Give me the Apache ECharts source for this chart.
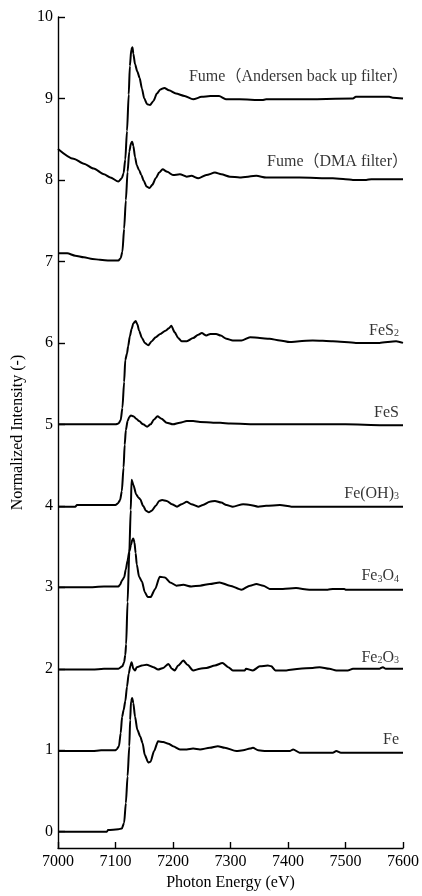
<!DOCTYPE html>
<html>
<head>
<meta charset="utf-8">
<script src="https://cdn.jsdelivr.net/npm/echarts@6/dist/echarts.min.js"></script>
<style>html,body{margin:0;padding:0;background:#fff}#c{width:422px;height:896px}</style>
</head>
<body>
<div id="c"></div>
<script>
// Tick labels
const xMin = 7000, xMax = 7600, xStep = 100;
const yTicks = [0, 1, 2, 3, 4, 5, 6, 7, 8, 9, 10];

// Spectra: [photon energy (eV), normalized intensity (offset)]
const andersen = [[7000,8.38],[7027,8.26],[7045,8.2],[7062,8.14],[7080,8.07],[7091,8.03],[7105,7.98],[7111,8.02],[7114,8.08],[7117,8.25],[7120,8.6],[7123,9.05],[7125,9.4],[7127.5,9.6],[7129.5,9.63],[7131,9.55],[7134,9.42],[7138,9.33],[7142,9.25],[7146,9.12],[7150,9.0],[7155,8.93],[7160,8.92],[7166,8.97],[7172,9.06],[7178,9.11],[7185,9.13],[7193,9.1],[7205,9.06],[7220,9.03],[7235,8.99],[7250,9.02],[7265,9.03],[7280,9.03],[7292,8.99],[7316,8.99],[7355,8.98],[7362,8.99],[7420,8.99],[7513,9.0],[7518,9.02],[7576,9.02],[7582,9.01],[7600,9.0]];
const dma = [[7000,7.10],[7016,7.10],[7030,7.07],[7045,7.05],[7060,7.03],[7073,7.02],[7090,7.01],[7105,7.01],[7109,7.04],[7112,7.12],[7115,7.4],[7118,7.75],[7121,8.1],[7124,8.35],[7127,8.45],[7129,8.47],[7131,8.42],[7134,8.28],[7137,8.18],[7141,8.12],[7145,8.06],[7149,7.99],[7154,7.92],[7159,7.90],[7164,7.94],[7170,8.02],[7176,8.09],[7182,8.13],[7190,8.10],[7200,8.06],[7212,8.07],[7224,8.04],[7232,8.05],[7244,8.02],[7258,8.06],[7273,8.09],[7284,8.07],[7299,8.04],[7316,8.03],[7345,8.05],[7362,8.03],[7420,8.03],[7478,8.02],[7500,8.01],[7513,8.0],[7536,8.0],[7545,8.01],[7570,8.01],[7600,8.01]];
const fes2 = [[7000,5.0],[7050,5.0],[7100,5.0],[7105,5.01],[7109,5.05],[7112,5.2],[7115,5.52],[7117,5.79],[7120,5.87],[7122,5.96],[7125,6.08],[7128,6.17],[7131,6.24],[7135,6.27],[7138,6.23],[7141,6.15],[7146,6.06],[7151,6.0],[7157,5.97],[7163,6.02],[7170,6.07],[7178,6.11],[7187,6.15],[7193,6.18],[7197,6.21],[7203,6.13],[7209,6.06],[7215,6.02],[7224,6.02],[7235,6.06],[7244,6.10],[7250,6.12],[7258,6.09],[7265,6.11],[7275,6.11],[7283,6.09],[7293,6.05],[7304,6.03],[7319,6.03],[7334,6.07],[7351,6.06],[7368,6.05],[7386,6.03],[7403,6.01],[7420,6.02],[7443,6.03],[7478,6.02],[7518,6.0],[7559,6.0],[7588,6.02],[7600,6.0]];
const fes = [[7000,3.99],[7030,3.99],[7033,4.01],[7100,4.01],[7104,4.03],[7108,4.07],[7111,4.18],[7114,4.47],[7116,4.75],[7118,4.93],[7121,5.04],[7124,5.09],[7127,5.11],[7131,5.10],[7136,5.07],[7141,5.04],[7148,5.0],[7155,4.97],[7161,5.0],[7167,5.06],[7173,5.10],[7180,5.07],[7189,5.02],[7200,5.0],[7212,5.02],[7224,5.04],[7235,5.04],[7247,5.03],[7270,5.02],[7282,5.02],[7300,5.01],[7351,5.0],[7420,5.0],[7500,5.0],[7565,4.99],[7600,4.99]];
const feoh3 = [[7000,1.99],[7060,1.99],[7080,2.0],[7105,2.0],[7112,2.03],[7115,2.08],[7117,2.17],[7118.5,2.3],[7121,2.82],[7124,3.43],[7126.5,3.95],[7128,4.32],[7131,4.26],[7136,4.14],[7140,4.10],[7143,4.08],[7148,4.0],[7153,3.94],[7158,3.92],[7163,3.94],[7170,4.0],[7176,4.06],[7181,4.07],[7189,4.06],[7198,4.02],[7207,3.99],[7215,4.02],[7224,4.05],[7232,4.02],[7244,3.99],[7252,4.01],[7264,4.05],[7273,4.06],[7284,4.04],[7293,4.01],[7304,3.99],[7322,4.02],[7334,4.01],[7348,3.99],[7362,4.0],[7386,4.01],[7406,3.99],[7600,3.99]];
const fe3o4 = [[7000,3.0],[7050,3.0],[7080,3.01],[7105,3.01],[7108,3.03],[7111,3.08],[7113,3.1],[7115,3.12],[7118,3.22],[7121,3.33],[7124,3.44],[7127,3.52],[7129,3.58],[7131,3.6],[7133,3.55],[7135,3.42],[7137,3.28],[7141,3.13],[7146,3.07],[7151,2.94],[7156,2.88],[7161,2.88],[7169,2.98],[7177,3.13],[7186,3.12],[7195,3.06],[7206,3.02],[7218,3.03],[7232,3.01],[7247,3.02],[7264,3.04],[7281,3.06],[7299,3.02],[7319,2.97],[7334,3.02],[7345,3.04],[7357,3.02],[7368,2.98],[7391,2.98],[7414,2.99],[7437,2.97],[7469,2.97],[7478,2.98],[7498,2.98],[7500,2.97],[7600,2.97]];
const fe2o3 = [[7000,0.99],[7060,0.99],[7075,1.0],[7100,1.0],[7102,1.01],[7106,1.05],[7109,1.21],[7111.5,1.41],[7114,1.49],[7117,1.60],[7120,1.78],[7123,1.94],[7126,2.04],[7128,2.08],[7131,2.0],[7134,1.98],[7137,2.02],[7146,2.04],[7154,2.05],[7166,2.02],[7174,1.99],[7183,2.01],[7192,2.06],[7198,2.0],[7203,1.98],[7209,2.04],[7218,2.10],[7225,2.05],[7235,1.98],[7247,2.0],[7258,2.01],[7273,2.04],[7286,2.07],[7296,2.02],[7304,1.98],[7325,1.98],[7327,2.0],[7339,1.98],[7351,2.03],[7365,2.04],[7371,2.03],[7378,1.98],[7397,1.98],[7420,2.0],[7443,2.01],[7455,2.02],[7472,2.0],[7484,1.98],[7504,1.98],[7513,2.0],[7559,2.0],[7565,2.02],[7570,2.0],[7600,2.0]];
const fe = [[7000,0.0],[7085,0.0],[7087,0.02],[7105,0.03],[7111,0.04],[7115,0.11],[7118,0.35],[7121,0.68],[7124,1.05],[7125.5,1.37],[7127,1.6],[7129,1.64],[7131,1.58],[7134,1.41],[7138,1.25],[7143,1.17],[7147,1.09],[7151,0.94],[7157,0.85],[7161,0.86],[7167,0.99],[7174,1.11],[7183,1.10],[7192,1.08],[7200,1.05],[7212,1.01],[7224,1.01],[7235,1.02],[7247,1.01],[7264,1.03],[7278,1.05],[7290,1.03],[7310,0.99],[7322,1.0],[7334,1.02],[7339,1.03],[7348,1.0],[7362,0.99],[7403,0.99],[7409,1.01],[7420,0.97],[7478,0.97],[7484,0.99],[7492,0.97],[7600,0.97]];

// Curve labels (rich markup for subscripts) and the y value at each label's centre
const labelTexts = ['Fume（Andersen back up filter）', 'Fume（DMA filter）', 'FeS{s|2}', 'FeS', 'Fe(OH){s|3}', 'Fe{s|3}O{s|4}', 'Fe{s|2}O{s|3}', 'Fe'];
const labelY = [9.26, 8.22, 6.15, 5.14, 4.15, 3.14, 2.14, 1.13];

const spectra = [andersen, dma, fes2, fes, feoh3, fe3o4, fe2o3, fe];

const SERIF = '"Liberation Serif", "Times New Roman", "Noto Sans CJK JP", serif';
const chart = echarts.init(document.getElementById('c'), null, {renderer: 'canvas'});

const series = spectra.map((d, i) => ({
  type: 'line',
  name: 'spec' + i,
  data: d,
  showSymbol: false,
  symbol: 'none',
  smooth: 0.25,
  smoothMonotone: 'x',
  lineStyle: {color: '#000', width: 2},
  z: 2
}));

series.push({
  type: 'scatter',
  symbolSize: 0,
  silent: true,
  data: labelTexts.map((t, i) => ({
    value: [xMax, labelY[i]],
    name: t,
    // full-width closing bracket carries blank space on its right side
    label: {offset: [t.endsWith('）') ? 9 : 0, 0]}
  })),
  label: {
    show: true,
    position: 'left',
    distance: 4,
    formatter: p => p.name,
    color: '#000',
    fontSize: 16,
    fontFamily: SERIF,
    rich: {
      s: {fontSize: 10, fontFamily: SERIF, color: '#000', verticalAlign: 'bottom', lineHeight: 16}
    }
  },
  z: 3
});

chart.setOption({
  animation: false,
  backgroundColor: '#fff',
  grid: {left: 58, right: 18, top: 17, bottom: 44},
  xAxis: {
    type: 'value', min: xMin, max: xMax, interval: xStep,
    axisLine: {show: true, onZero: false, lineStyle: {color: '#000', width: 1.4}},
    axisTick: {show: true, inside: true, length: 6, lineStyle: {color: '#000', width: 1.4}},
    axisLabel: {color: '#000', fontSize: 16, fontFamily: SERIF, margin: 6, formatter: v => String(v)},
    splitLine: {show: false},
    name: 'Photon Energy (eV)', nameLocation: 'middle', nameGap: 27,
    nameTextStyle: {color: '#000', fontSize: 16, fontFamily: SERIF}
  },
  yAxis: {
    type: 'value', min: -0.2, max: 10,
    axisLine: {show: true, onZero: false, lineStyle: {color: '#000', width: 1.4}},
    axisTick: {show: true, inside: true, length: 7, customValues: yTicks, lineStyle: {color: '#000', width: 1.4}},
    axisLabel: {color: '#000', fontSize: 16, fontFamily: SERIF, margin: 5, customValues: yTicks, formatter: v => String(v)},
    splitLine: {show: false},
    name: 'Normalized Intensity (-)', nameLocation: 'middle', nameGap: 32,
    nameTextStyle: {color: '#000', fontSize: 16, fontFamily: SERIF}
  },
  series: series
});
</script>
</body>
</html>
